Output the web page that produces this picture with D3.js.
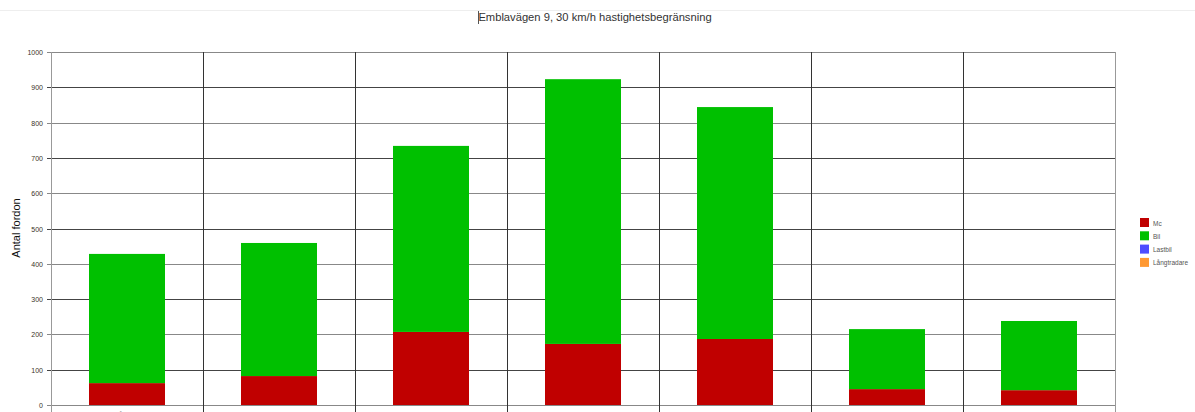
<html>
<head>
<meta charset="utf-8">
<title>Emblavägen 9</title>
<script src="https://cdnjs.cloudflare.com/ajax/libs/d3/7.8.5/d3.min.js"></script>
<style>
  body { margin: 0; background: #fff; }
  text { font-family: "Liberation Sans", Arial, sans-serif; }
</style>
<script>
// data
var days = ['Måndag', 'Tisdag', 'Onsdag', 'Torsdag', 'Fredag', 'Lördag', 'Söndag'];
var mc = [62, 82, 207, 173, 187, 45, 42];
var bil = [366, 377, 527, 750, 657, 170, 196];
var lastbil = [0, 0, 0, 0, 0, 0, 0];
var langtradare = [0, 0, 0, 0, 0, 0, 0];
var seriesNames = ['Mc', 'Bil', 'Lastbil', 'Långtradare'];
var seriesColors = ['#c00000', '#00c000', '#4d4dff', '#ff9933'];
var yTicks = [0, 100, 200, 300, 400, 500, 600, 700, 800, 900, 1000];

document.addEventListener('DOMContentLoaded', function () {
    var svg = d3.select('#chart');
    var left = 51, right = 1115, top = 52, bottom = 405;

    var x = d3.scaleBand().domain(days).range([left, right]).padding(0);
    var y = d3.scaleLinear().domain([0, 1000]).range([bottom, top]);

    // faint line at top of the capture
    svg.append('line').attr('x1', 0).attr('x2', 1195).attr('y1', 10.5).attr('y2', 10.5)
        .attr('stroke', '#eeeeee');

    // title
    svg.append('text').attr('x', 595).attr('y', 21).attr('text-anchor', 'middle')
        .attr('font-size', 11.2).attr('fill', '#333')
        .text('Emblavägen 9, 30 km/h hastighetsbegränsning');
    svg.append('line').attr('x1', 478.5).attr('x2', 478.5).attr('y1', 11).attr('y2', 24)
        .attr('stroke', '#555');

    // horizontal gridlines
    svg.append('g').selectAll('line').data(yTicks).enter().append('line')
        .attr('x1', left - 4).attr('x2', right)
        .attr('y1', function (d) { return Math.round(y(d)) + 0.5; })
        .attr('y2', function (d) { return Math.round(y(d)) + 0.5; })
        .attr('stroke', function (d, i) { return i % 2 ? '#444' : '#888'; })
        .attr('stroke-width', 1);

    // vertical gridlines at category boundaries
    var bounds = days.map(function (d) { return x(d); }).concat([right]);
    svg.append('g').selectAll('line').data(bounds).enter().append('line')
        .attr('x1', function (d) { return Math.round(d) + 0.5; })
        .attr('x2', function (d) { return Math.round(d) + 0.5; })
        .attr('y1', top).attr('y2', 412)
        .attr('stroke', function (d, i) { return (i === 0 || i === bounds.length - 1) ? '#999' : '#333'; });

    // y tick labels
    svg.append('g').selectAll('text').data(yTicks).enter().append('text')
        .attr('x', 43).attr('y', function (d) { return y(d) + 3; })
        .attr('text-anchor', 'end').attr('font-size', 7).attr('fill', '#3a3328')
        .text(function (d) { return d; });

    // y title
    svg.append('text').attr('transform', 'translate(20,228) rotate(-90)')
        .attr('text-anchor', 'middle').attr('font-size', 11).attr('fill', '#111')
        .text('Antal fordon');

    // stacked bars
    var rows = days.map(function (d, i) {
        return { day: d, Mc: mc[i], Bil: bil[i], Lastbil: lastbil[i], 'Långtradare': langtradare[i] };
    });
    var stack = d3.stack().keys(seriesNames)(rows);
    var bw = x.bandwidth() * 0.5;
    svg.append('g').selectAll('g').data(stack).enter().append('g')
        .attr('fill', function (d, i) { return seriesColors[i]; })
        .selectAll('rect').data(function (d) { return d; }).enter().append('rect')
        .attr('x', function (d) { return x(d.data.day) + (x.bandwidth() - bw) / 2; })
        .attr('width', bw)
        .attr('y', function (d) { return y(d[1]); })
        .attr('height', function (d) { return y(d[0]) - y(d[1]); });

    // category labels (cut off at bottom, as in the source)
    svg.append('g').selectAll('text').data(days).enter().append('text')
        .attr('x', function (d) { return x(d) + x.bandwidth() / 2; })
        .attr('y', 419).attr('text-anchor', 'middle').attr('font-size', 9).attr('fill', '#666')
        .text(function (d) { return d; });

    // legend
    var lg = svg.append('g').attr('transform', 'translate(1140,218)');
    seriesNames.forEach(function (s, i) {
        lg.append('rect').attr('x', 0).attr('y', i * 13.3).attr('width', 9).attr('height', 9)
            .attr('fill', seriesColors[i]);
        lg.append('text').attr('x', 13).attr('y', i * 13.3 + 7.5).attr('font-size', 6.5)
            .attr('fill', '#555').text(s);
    });
});
</script>
</head>
<body>
<svg id="chart" width="1195" height="412"></svg>
</body>
</html>
